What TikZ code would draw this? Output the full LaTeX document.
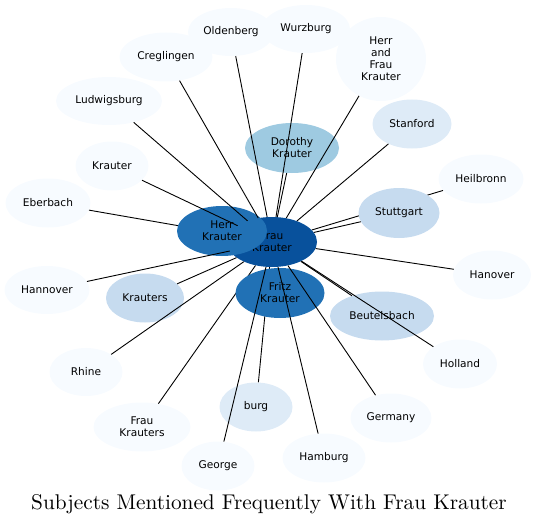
\documentclass[tikz,border=0pt]{standalone}
\usepackage{fontspec}
\newfontfamily\labelfont{DejaVu Sans}
\newfontfamily\titlefont{lmroman10-regular}[Extension=.otf]
\usetikzlibrary{shapes.geometric,backgrounds}
\definecolor{blueA}{HTML}{F7FBFF}
\definecolor{blueB}{HTML}{DEEBF7}
\definecolor{blueC}{HTML}{C6DBEF}
\definecolor{blueD}{HTML}{9ECAE1}
\definecolor{blueE}{HTML}{2171B5}
\definecolor{blueF}{HTML}{08519C}

\begin{document}
\begin{tikzpicture}[x=1pt, y=-1pt,
    subject/.style={ellipse, inner sep=0pt, minimum width=#1, minimum height=49pt, align=center, font=\labelfont\fontsize{10.6}{12}\selectfont, fill=blueA},
    subject/.default=80pt,
    link/.style={line width=0.9pt, black}
]
\useasboundingbox (0,0) rectangle (536,527);

% central people
\node[subject=90pt, minimum height=50pt, fill=blueF] (fk) at (272,242) {Frau\\Krauter};
\node[subject=90pt, minimum height=50pt, fill=blueE] (hk) at (222,231) {Herr\\Krauter};
\node[subject=89pt, minimum height=50pt, fill=blueE] (fritz) at (280,293) {Fritz\\Krauter};
\node[subject=94pt, minimum height=50pt, fill=blueD] (dorothy) at (292,148) {Dorothy\\Krauter};

% places and other subjects
\node[subject=86pt, minimum height=48pt] (oldenberg) at (231,32) {Oldenberg};
\node[subject=88pt, minimum height=48pt] (wurzburg) at (306,29) {Wurzburg};
\node[subject=93pt] (creglingen) at (166,57) {Creglingen};
\node[subject=106pt, minimum height=48pt] (ludwigsburg) at (109,101) {Ludwigsburg};
\node[subject=73pt] (krauter) at (112,166) {Krauter};
\node[subject=85pt] (eberbach) at (48,203) {Eberbach};
\node[subject=85pt, minimum height=48pt] (hannover) at (47,290) {Hannover};
\node[subject=78pt, fill=blueC] (krauters) at (145,298) {Krauters};
\node[subject=73pt, minimum height=48pt] (rhine) at (86,372) {Rhine};
\node[subject=97pt] (fraukrs) at (142,427) {Frau\\Krauters};
\node[subject=73pt] (george) at (218,466) {George};
\node[subject=73pt, fill=blueB] (burg) at (256,407) {burg};
\node[subject=83pt] (hamburg) at (324,458) {Hamburg};
\node[subject=81pt] (germany) at (391,418) {Germany};
\node[subject=74pt] (holland) at (460,364) {Holland};
\node[subject=104pt, fill=blueC] (beutelsbach) at (382,316) {Beutelsbach};
\node[subject=78pt] (hanover) at (492,275) {Hanover};
\node[subject=81pt, minimum height=50pt, fill=blueC] (stuttgart) at (399,213) {Stuttgart};
\node[subject=85pt] (heilbronn) at (481,179) {Heilbronn};
\node[subject=79pt, fill=blueB] (stanford) at (412,124) {Stanford};
\node[subject=90pt, minimum height=84pt] (hfk) at (381,59) {Herr\\and\\Frau\\Krauter};

% links hidden under other nodes
\begin{scope}[on background layer]
\draw[link] (eberbach) -- (fk);
\draw[link] (heilbronn) -- (fk);
\draw[link] (fraukrs) -- (fk);
\draw[link] (burg) -- (fk);
\end{scope}

% links
\draw[link] (oldenberg) -- (fk);
\draw[link] (wurzburg) -- (fk);
\draw[link] (creglingen) -- (fk);
\draw[link] (ludwigsburg) -- (fk);
\draw[link] (krauter) -- (fk);
\draw[link] (hannover) -- (fk);
\draw[link] (krauters) -- (fk);
\draw[link] (rhine) -- (fk);
\draw[link] (george) -- (fk);
\draw[link] (hamburg) -- (fk);
\draw[link] (germany) -- (fk);
\draw[link] (holland) -- (fk);
\draw[link] (beutelsbach) -- (fk);
\draw[link] (hanover) -- (fk);
\draw[link] (stuttgart) -- (fk);
\draw[link] (stanford) -- (fk);
\draw[link] (hfk) -- (fk);
\draw[link] (dorothy) -- (fk);

\node (title) at (269,504) {\titlefont\fontsize{21.3}{24}\selectfont Subjects Mentioned Frequently With Frau Krauter};
\end{tikzpicture}
\end{document}
